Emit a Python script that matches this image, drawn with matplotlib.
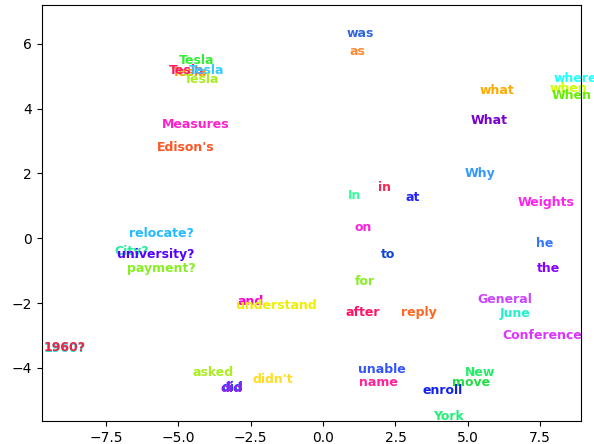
import matplotlib
matplotlib.use('Agg')
import matplotlib.pyplot as plt

# 2-D embedding of words
words = ['Tesla', 'Tesla', 'Tesla', 'Tesla', 'Tesla', 'Measures', "Edison's",
         'was', 'as', 'what', 'where', 'when', 'When', 'What', 'Why',
         'in', 'In', 'at', 'Weights',
         'relocate?', 'City?', 'university?', 'payment?', 'on', 'to', 'he', 'the', 'for',
         'and', 'understand', 'after', 'reply', 'General', 'June', 'Conference',
         '1960?', '1960?', 'asked', 'didn\'t', 'did', 'did',
         'unable', 'name', 'New', 'move', 'enroll', 'York']
xs = [-4.97, -5.22, -5.32, -4.63, -4.80, -5.56, -5.73,
      0.82, 0.91, 5.42, 7.96, 7.84, 7.90, 5.08, 4.88,
      1.89, 0.87, 2.84, 6.72,
      -6.72, -7.21, -7.11, -6.78, 1.07, 1.99, 7.36, 7.40, 1.11,
      -2.96, -3.02, 0.77, 2.69, 5.33, 6.09, 6.19,
      -9.65, -9.66, -4.50, -2.43, -3.50, -3.53,
      1.22, 1.25, 4.91, 4.46, 3.44, 3.79]
ys = [5.38, 5.01, 5.07, 5.07, 4.79, 3.40, 2.69,
      6.22, 5.66, 4.44, 4.83, 4.51, 4.29, 3.52, 1.90,
      1.46, 1.20, 1.16, 1.01,
      0.05, -0.52, -0.60, -1.05, 0.23, -0.60, -0.26, -1.05, -1.44,
      -2.06, -2.19, -2.39, -2.39, -2.01, -2.44, -3.11,
      -3.51, -3.48, -4.24, -4.48, -4.70, -4.73,
      -4.15, -4.55, -4.25, -4.55, -4.81, -5.62]
colors = ['#33ee33', '#ff9900', '#ff1a66', '#33ccff', '#aaee22', '#ff22cc', '#ff5522',
          '#3366dd', '#ff8833', '#ffaa00', '#22ffff', '#ccff00', '#66ee00', '#7700cc', '#3399ff',
          '#ff2255', '#33ff99', '#2222ff', '#ff22ee',
          '#22bbff', '#22ee99', '#5500ff', '#88ee22', '#ff22dd', '#1144dd', '#3377ff', '#8800ff', '#88ee22',
          '#ff00cc', '#eeee00', '#ff1166', '#ff6622', '#cc44ff', '#22eecc', '#dd33ff',
          '#22ddcc', '#ee2244', '#aaee22', '#ffdd22', '#2244ff', '#8822ee',
          '#3355ff', '#ff2299', '#22ee66', '#22dd44', '#1122ee', '#22ee77']

fig = plt.figure(figsize=(5.94, 4.44), dpi=100)
ax = fig.add_axes([41.7 / 594, 1 - 421 / 444, (581 - 41.7) / 594, (421 - 4.7) / 444])

for w, x, y, c in zip(words, xs, ys, colors):
    ax.text(x, y, w, color=c, fontsize=9, fontweight='bold', zorder=1)

ax.set_xlim(-9.72, 8.91)
ax.set_ylim(-5.64, 7.21)
ax.set_xticks([-7.5, -5.0, -2.5, 0.0, 2.5, 5.0, 7.5])
ax.set_yticks([-4, -2, 0, 2, 4, 6])
for s in ax.spines.values():
    s.set_zorder(3)

fig.savefig('out.png', dpi=100)
